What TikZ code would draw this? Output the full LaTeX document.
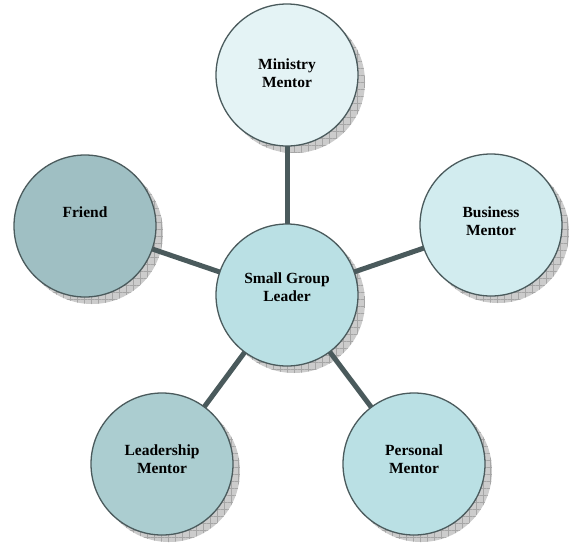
\documentclass[tikz,border=0pt]{standalone}
\usepackage{fontspec}
\setmainfont{Liberation Serif}
\usetikzlibrary{patterns.meta,calc}
\definecolor{edgec}{HTML}{4A5A5C}
\definecolor{cMin}{HTML}{E4F3F5}
\definecolor{cCen}{HTML}{BAE0E4}
\definecolor{cFri}{HTML}{9FBFC3}
\definecolor{cBus}{HTML}{D2ECEF}
\definecolor{cLea}{HTML}{ABCDD0}
\definecolor{cPer}{HTML}{BAE0E4}
\tikzset{
  x=1pt,y=-1pt,
  bubble/.style={circle,draw=edgec,line width=1.3pt,minimum size=142pt,inner sep=0pt},
  shad/.style={circle,minimum size=142pt,inner sep=0pt,fill=gray!40,
    postaction={pattern={Lines[angle=0,distance=7pt,line width=0.4pt]},pattern color=gray!70},
    postaction={pattern={Lines[angle=90,distance=7pt,line width=0.4pt]},pattern color=gray!70}},
  link/.style={draw=edgec,line width=5pt},
  lbl/.style={font=\fontsize{15.5}{18}\selectfont\bfseries,align=center,inner sep=0pt}
}
\begin{document}
\begin{tikzpicture}
\useasboundingbox (0,0) rectangle (569,544);
% shadows
\foreach \a/\b [count=\i] in {287/75,287/295,85/226,491/225,162/464,414/464}{
  \node[shad] (sh\i) at (\a+7,\b+7) {};
}
\coordinate (pMin) at (287,75);
\coordinate (pCen) at (287,295);
\coordinate (pFri) at (85,226);
\coordinate (pBus) at (491,225);
\coordinate (pLea) at (162,464);
\coordinate (pPer) at (414,464);
\draw[link] (pCen) -- (pMin);
\draw[link] (pCen) -- (pFri);
\draw[link] (pCen) -- (pBus);
\draw[link] (pCen) -- (pLea);
\draw[link] (pCen) -- (pPer);
\node[bubble,fill=cMin] (min) at (pMin) {};
\node[bubble,fill=cCen] (cen) at (pCen) {};
\node[bubble,fill=cFri] (fri) at (pFri) {};
\node[bubble,fill=cBus] (bus) at (pBus) {};
\node[bubble,fill=cLea] (lea) at (pLea) {};
\node[bubble,fill=cPer] (per) at (pPer) {};
\node[lbl] (tMin) at ($(min.center)+(0,-2)$) {Ministry\\Mentor};
\node[lbl] (tCen) at ($(cen.center)+(0,-8)$) {Small Group\\Leader};
\node[lbl] (tFri) at ($(fri.center)+(0,-14)$) {Friend};
\node[lbl] (tBus) at ($(bus.center)+(0,-4)$) {Business\\Mentor};
\node[lbl] (tLea) at ($(lea.center)+(0,-5)$) {Leadership\\Mentor};
\node[lbl] (tPer) at ($(per.center)+(0,-5)$) {Personal\\Mentor};
\end{tikzpicture}
\end{document}
